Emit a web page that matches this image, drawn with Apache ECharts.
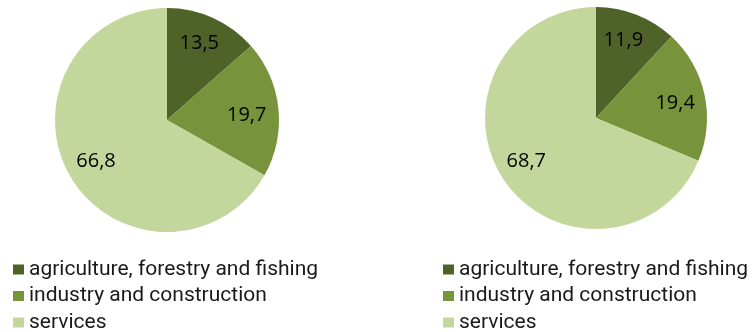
<!DOCTYPE html>
<html>
<head>
<meta charset="utf-8">
<script src="https://cdn.jsdelivr.net/npm/echarts@6/dist/echarts.min.js"></script>
<style>
  html, body { margin: 0; padding: 0; background: #fff; }
  #main { width: 756px; height: 332px; }
</style>
</head>
<body>
<div id="main"></div>
<script>
// sectors and their shares (%)
const categories = ['agriculture, forestry and fishing', 'industry and construction', 'services'];
const leftValues = [13.5, 19.7, 66.8];
const rightValues = [11.9, 19.4, 68.7];
const colors = ['#4f6228', '#77933c', '#c3d69b'];

// nudge labels out from the half-radius point, like the original
const leftOffsets = [[8, -23], [21, 1], [-20, 12]];
const rightOffsets = [[6, -23], [22, -2], [-21, 11]];

function buildData(values, offsets) {
    return values.map(function (v, i) {
        return {
            name: categories[i],
            value: v,
            itemStyle: { color: colors[i] },
            label: { offset: offsets[i] }
        };
    });
}

const labelStyle = {
    show: true,
    position: 'inside',
    color: '#000',
    fontFamily: 'Open Sans',
    fontSize: 20,
    formatter: function (p) { return p.value.toFixed(1).replace('.', ','); }
};

const legendBase = {
    orient: 'vertical',
    icon: 'rect',
    itemWidth: 11,
    itemHeight: 10,
    itemGap: 5.5,
    padding: 0,
    height: 90,
    selectedMode: false,
    textStyle: { fontFamily: 'Roboto', fontSize: 21, color: '#1a1a1a', lineHeight: 21 },
    data: categories
};

const myChart = echarts.init(document.getElementById('main'));
myChart.setOption({
    animation: false,
    legend: [
        Object.assign({}, legendBase, { left: 13, top: 259 }),
        Object.assign({}, legendBase, { left: 443, top: 259 })
    ],
    series: [
        {
            type: 'pie',
            center: [167, 120],
            radius: 112,
            startAngle: 90,
            clockwise: true,
            label: labelStyle,
            labelLine: { show: false },
            emphasis: { disabled: true },
            data: buildData(leftValues, leftOffsets)
        },
        {
            type: 'pie',
            center: [596, 118],
            radius: 111,
            startAngle: 90,
            clockwise: true,
            label: labelStyle,
            labelLine: { show: false },
            emphasis: { disabled: true },
            data: buildData(rightValues, rightOffsets)
        }
    ]
});
</script>
</body>
</html>
